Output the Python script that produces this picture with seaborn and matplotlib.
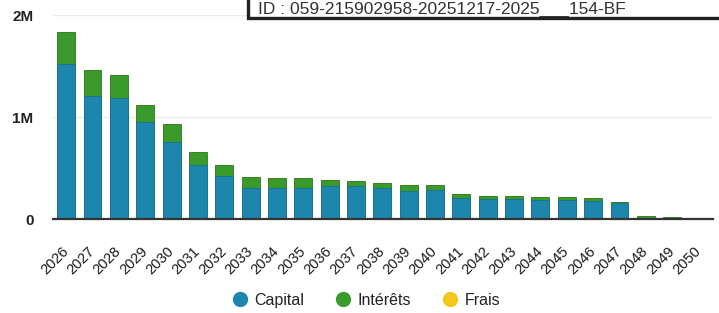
import numpy as np
import pandas as pd
import matplotlib
matplotlib.use("Agg")
import matplotlib.pyplot as plt
import seaborn as sns
from matplotlib.patches import Rectangle
from matplotlib.lines import Line2D
from matplotlib.transforms import ScaledTranslation

# Data (values in M)
years = [str(y) for y in range(2026, 2051)]
capital = [1.52, 1.21, 1.19, 0.95, 0.76, 0.53, 0.42, 0.30, 0.30, 0.30, 0.32, 0.32,
           0.30, 0.28, 0.29, 0.21, 0.20, 0.20, 0.19, 0.19, 0.18, 0.16, 0.015, 0.015, 0.0]
interets = [0.31, 0.25, 0.22, 0.17, 0.17, 0.13, 0.11, 0.11, 0.10, 0.10, 0.06, 0.05,
            0.05, 0.05, 0.04, 0.04, 0.03, 0.03, 0.03, 0.03, 0.03, 0.01, 0.015, 0.005, 0.0]
frais = [0.0] * 25
y_ticks = [0, 1, 2]
y_labels = ["0", "1M", "2M"]

blue = "#1d86ad"
green = "#3a9a2c"
yellow = "#f2c81c"

df = pd.DataFrame({"year": years, "capital": capital, "interets": interets, "frais": frais})
df["cap_int"] = df["capital"] + df["interets"]
df["total"] = df["cap_int"] + df["frais"]

sns.set_style("white")
plt.rcParams["font.family"] = ["Liberation Sans", "DejaVu Sans"]

fig = plt.figure(figsize=(7.19, 3.13), dpi=100)
ax = fig.add_axes([0.0737, 0.300, 0.918, 0.652])

# stacked bars: draw the taller stacks first, then overlay the lower parts
sns.barplot(data=df, x="year", y="total", color=yellow, width=0.68, ax=ax,
            saturation=1, edgecolor="none")
sns.barplot(data=df, x="year", y="cap_int", color=green, width=0.68, ax=ax,
            saturation=1, edgecolor="#2b7a22", linewidth=0.6)
sns.barplot(data=df, x="year", y="capital", color=blue, width=0.68, ax=ax,
            saturation=1, edgecolor="#17708f", linewidth=0.6)

ax.set_ylim(0, 2)
ax.set_xlim(-0.5, 24.55)
ax.set_xlabel("")
ax.set_ylabel("")
ax.set_yticks(y_ticks)
ax.set_yticklabels(y_labels, fontsize=11, fontweight="bold", color="#222222")
ax.tick_params(axis="y", length=0, pad=14)
ax.tick_params(axis="x", length=0, pad=18)
shift = ScaledTranslation(-5 / 100, 0, fig.dpi_scale_trans)
for lab in ax.get_xticklabels():
    lab.set_rotation(45)
    lab.set_ha("right")
    lab.set_rotation_mode("anchor")
    lab.set_fontsize(10.5)
    lab.set_color("#1a1a1a")
    lab.set_transform(lab.get_transform() + shift)

for v in [1, 2]:
    ax.axhline(v, color="#ececec", lw=1, zorder=0)
for s in ["top", "right", "left"]:
    ax.spines[s].set_visible(False)
ax.spines["bottom"].set_color("#333333")
ax.spines["bottom"].set_linewidth(1.6)

handles = [Line2D([], [], marker="o", ls="", ms=10, color=c, markeredgecolor=c)
           for c in [blue, green, yellow]]
fig.legend(handles, ["Capital", "Intérêts", "Frais"], loc="lower center",
           bbox_to_anchor=(0.51, -0.03), ncol=3, frameon=False, fontsize=11.5,
           handlelength=0.9, handletextpad=0.45, columnspacing=2.0, labelcolor="#222222")

# stamp box at the top
fig.patches.append(Rectangle((248 / 719, 1 - 18 / 313), 0.7, 0.1, transform=fig.transFigure,
                             facecolor="white", edgecolor="#222222", lw=2.4, zorder=5))
fig.text(258 / 719, 1 - 14 / 313, "ID : 059-215902958-20251217-2025___154-BF",
         fontsize=12.5, color="#333333", va="baseline", ha="left", zorder=6)

fig.savefig("out.png", dpi=100)
